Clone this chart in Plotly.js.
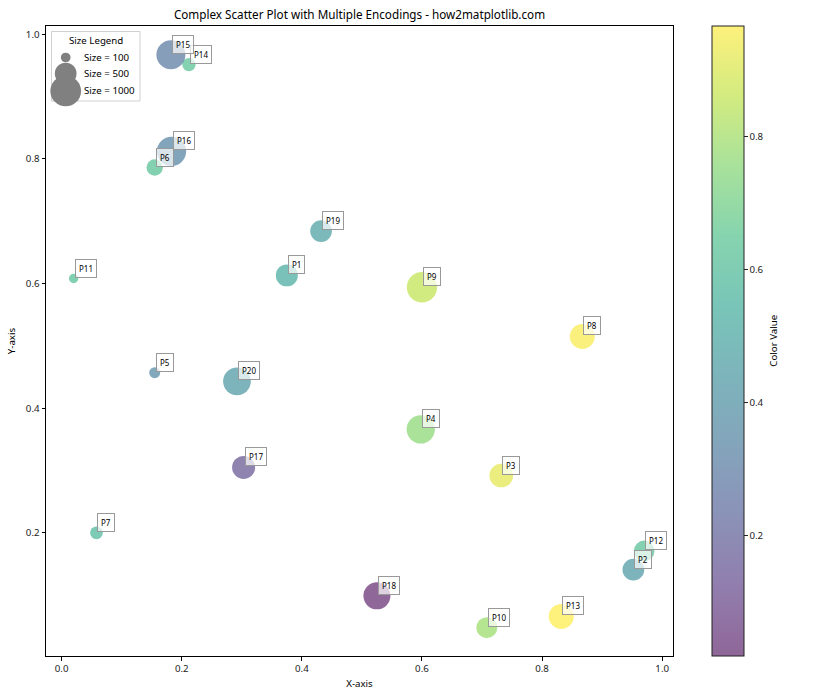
<!DOCTYPE html>
<html>
<head>
<meta charset="utf-8">
<script src="https://cdn.plot.ly/plotly-3.0.1.min.js"></script>
<style>html,body{margin:0;padding:0;background:#fff;}</style>
</head>
<body>
<div id="chart" style="width:840px;height:700px;"></div>
<script>
// ---- data ----
const labels = ["P1","P2","P3","P4","P5","P6","P7","P8","P9","P10","P11","P12","P13","P14","P15","P16","P17","P18","P19","P20"];
const xValues = [0.375,0.952,0.732,0.598,0.155,0.155,0.058,0.867,0.600,0.708,0.020,0.970,0.832,0.212,0.182,0.183,0.303,0.525,0.432,0.292];
const yValues = [0.613,0.141,0.292,0.366,0.457,0.786,0.200,0.515,0.594,0.048,0.608,0.171,0.066,0.951,0.967,0.812,0.305,0.099,0.684,0.443];
const sizeValues = [510,500,594,847,128,282,171,661,972,467,92,453,661,187,890,908,560,771,498,811];
const colorValues = [0.52,0.44,0.92,0.76,0.36,0.63,0.58,0.955,0.86,0.79,0.62,0.63,0.967,0.64,0.30,0.34,0.15,0.018,0.47,0.43];
const legendSizes = [100,500,1000];
const legendLabels = ["Size = 100","Size = 500","Size = 1000"];

// ---- helpers ----
const DPI = 70;
const sToPx = s => Math.sqrt(s) * DPI / 72;
const viridis = ['#440154','#482878','#3e4989','#31688e','#26828e','#1f9e89','#35b779','#6ece58','#b5de2b','#fde725'];
function rgba(hex, a){
  const r=parseInt(hex.slice(1,3),16), g=parseInt(hex.slice(3,5),16), b=parseInt(hex.slice(5,7),16);
  return `rgba(${r},${g},${b},${a})`;
}
const colorscale = viridis.map((c,i)=>[i/(viridis.length-1), rgba(c,0.6)]);

const FONT = "Noto Sans, DejaVu Sans, sans-serif";
const tickPx = 9.7;

// plot-area geometry (pixels) for paper placement of decorations
const L = 46, R = 167, T = 26, B = 44, W = 840, H = 700;
const pw = W - L - R, ph = H - T - B;
const px2x = px => (px - L) / pw;
const py2y = py => 1 - (py - T) / ph;

const trace = {
  type: 'scatter',
  mode: 'markers',
  x: xValues,
  y: yValues,
  text: labels,
  marker: {
    size: sizeValues.map(sToPx),
    sizemode: 'diameter',
    color: colorValues,
    colorscale: colorscale,
    line: {width: 0},
    opacity: 1,
    colorbar: {
      x: px2x(712), xanchor: 'left', xref: 'paper',
      y: 0.5, yanchor: 'middle',
      len: 1, lenmode: 'fraction',
      thickness: 32, thicknessmode: 'pixels',
      xpad: 0, ypad: 0,
      outlinewidth: 1, outlinecolor: '#222',
      ticks: 'outside', ticklen: 3.5, tickwidth: 1, tickcolor: '#222',
      tickvals: [0.2,0.4,0.6,0.8], tickformat: '.1f',
      tickfont: {family: FONT, size: tickPx, color: '#222'}
    }
  },
  showlegend: false,
  hoverinfo: 'text'
};

const annotations = labels.map((lab,i)=>({
  x: xValues[i], y: yValues[i], xref: 'x', yref: 'y',
  text: lab, showarrow: false,
  xanchor: 'left', yanchor: 'bottom',
  xshift: 1, yshift: 1,
  font: {family: FONT, size: 8, color: '#000'},
  bgcolor: 'rgba(255,255,255,0.7)',
  bordercolor: '#999', borderwidth: 1, borderpad: 3
}));

// colorbar title
annotations.push({
  xref: 'paper', yref: 'paper', x: px2x(772.7), y: 0.5,
  xanchor: 'center', yanchor: 'middle', showarrow: false, textangle: -90,
  text: 'Color Value', font: {family: FONT, size: tickPx, color: '#000'}
});

// Size legend (decoration)
const legendCenterY = [57.5, 73.5, 91];
const shapes = [{
  type: 'rect', xref: 'paper', yref: 'paper', layer: 'above',
  x0: px2x(51.5), x1: px2x(140), y0: py2y(101), y1: py2y(31.5),
  fillcolor: 'rgba(255,255,255,0.8)', line: {color: '#d0d0d0', width: 1}
}];
legendSizes.forEach((s,i)=>{
  const r = sToPx(s)/2;
  shapes.push({
    type: 'circle', xref: 'paper', yref: 'paper', layer: 'above',
    xsizemode: 'pixel', ysizemode: 'pixel',
    xanchor: px2x(65.7), yanchor: py2y(legendCenterY[i]),
    x0: -r, x1: r, y0: -r, y1: r,
    fillcolor: 'gray', line: {width: 0}
  });
  annotations.push({
    xref: 'paper', yref: 'paper', x: px2x(82), y: py2y(legendCenterY[i]),
    xanchor: 'left', yanchor: 'middle', showarrow: false,
    text: legendLabels[i], font: {family: FONT, size: tickPx, color: '#000'}
  });
});
annotations.push({
  xref: 'paper', yref: 'paper', x: px2x(95.5), y: py2y(40),
  xanchor: 'center', yanchor: 'middle', showarrow: false,
  text: 'Size Legend', font: {family: FONT, size: tickPx, color: '#000'}
});

const layout = {
  width: W, height: H,
  margin: {l: L, r: R, t: T, b: B, pad: 0},
  paper_bgcolor: '#fff', plot_bgcolor: '#fff',
  font: {family: FONT, color: '#000'},
  title: {
    text: 'Complex Scatter Plot with Multiple Encodings - how2matplotlib.com',
    font: {family: FONT, size: 11.7, color: '#000'},
    x: (L + pw/2)/W, xanchor: 'center', y: 1 - 15/H, yanchor: 'middle'
  },
  xaxis: {
    range: [-0.026, 1.018], showgrid: false, zeroline: false,
    showline: true, mirror: true, linecolor: '#000', linewidth: 1,
    ticks: 'outside', ticklen: 3.5, tickcolor: '#000',
    tickvals: [0,0.2,0.4,0.6,0.8,1.0], tickformat: '.1f',
    tickfont: {family: FONT, size: tickPx, color: '#222'},
    title: {text: 'X-axis', font: {family: FONT, size: tickPx, color: '#000'}, standoff: 6}
  },
  yaxis: {
    range: [0.0025, 1.013], showgrid: false, zeroline: false,
    showline: true, mirror: true, linecolor: '#000', linewidth: 1,
    ticks: 'outside', ticklen: 3.5, tickcolor: '#000',
    tickvals: [0.2,0.4,0.6,0.8,1.0], tickformat: '.1f',
    tickfont: {family: FONT, size: tickPx, color: '#222'},
    title: {text: 'Y-axis', font: {family: FONT, size: tickPx, color: '#000'}, standoff: 8}
  },
  annotations: annotations,
  shapes: shapes
};

Plotly.newPlot('chart', [trace], layout, {staticPlot: true, displayModeBar: false});
</script>
</body>
</html>
